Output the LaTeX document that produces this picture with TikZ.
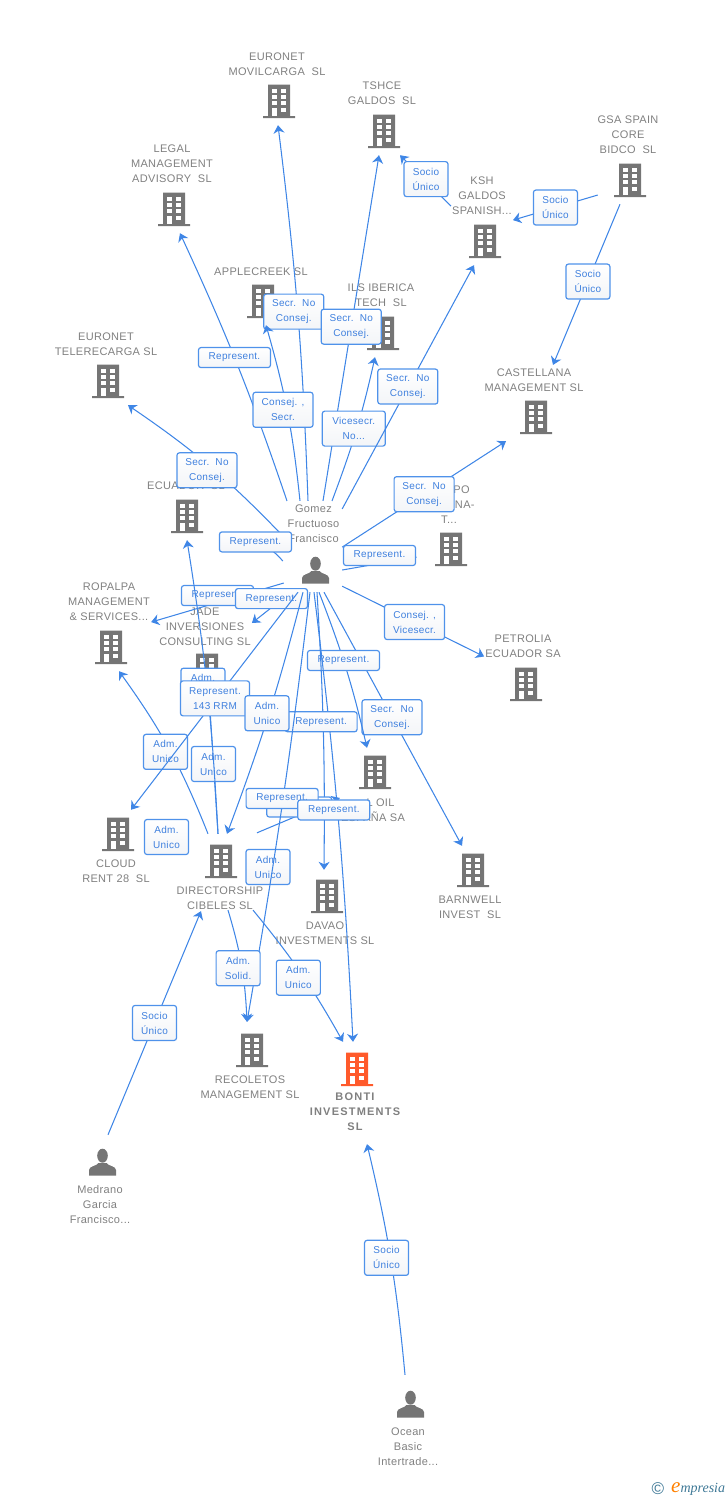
\documentclass[tikz,border=0pt]{standalone}
\usepackage{fontspec}
\setmainfont{Liberation Sans}
\newfontfamily\spaced[LetterSpace=3]{Liberation Sans}
\newfontfamily\wider[LetterSpace=11]{Liberation Sans}
\newfontfamily\brandfont{Liberation Serif}
\usetikzlibrary{arrows.meta}
\definecolor{linkblue}{HTML}{3F86E6}
\definecolor{tagedge}{HTML}{4F92EA}
\definecolor{tagtext}{HTML}{3F80DE}
\definecolor{tagshade}{HTML}{F3F5F8}
\definecolor{firmgray}{HTML}{808080}
\definecolor{blockgray}{HTML}{757575}
\definecolor{blockorange}{HTML}{FF5A2B}
\definecolor{brandblue}{HTML}{3E7896}
\tikzset{
  link/.style={draw=linkblue,line width=1.05pt,-{Stealth[length=8pt,width=11pt,inset=2.5pt]}},
  tag/.style={draw=tagedge,top color=white,bottom color=tagshade,rounded corners=2.5pt,line width=1.2pt,text=tagtext,align=center,
    font=\spaced\fontsize{10}{15}\selectfont,inner xsep=2pt,inner ysep=0pt,minimum height=35pt,minimum width=44pt},
  tagwide/.style={tag,minimum width=60pt},
  tagone/.style={tag,minimum height=20pt,minimum width=72pt},
  firm/.style={text=firmgray,align=center,font=\spaced\fontsize{11}{15}\selectfont,inner sep=1pt,yshift=-1pt},
  blockbox/.style={minimum width=46pt,minimum height=48pt,inner sep=0pt},
  personbox/.style={minimum width=54pt,minimum height=44pt,inner sep=0pt},
  pics/block/.style={code={
    \fill[#1] (-11,-16.3) rectangle (11,15) (-16,15) rectangle (16,17);
    \foreach \w in {-12.3,-6,0.3} {
      \fill[white] (-7,\w) rectangle (-2.3,\w+4);
      \fill[white] (2.3,\w) rectangle (7,\w+4);
    }
    \fill[white] (-7,7) rectangle (-2.3,15);
    \fill[white] (2.3,7) rectangle (7,11.3);
    \node[blockbox] (b) at (0,0) {};
  }},
  pics/block/.default=blockgray,
  pics/person/.style={code={
    \fill[blockgray] (0.5,-6.3) ellipse (5.3 and 7);
    \fill[blockgray] (-13,13.5) -- (-13,8) .. controls (-13,4) and (-5,4) .. (-3.5,1) -- (4.5,1)
      .. controls (6,4) and (14,4) .. (14,8) -- (14,13.5) -- cycle;
    \node[personbox] (b) at (0,0) {};
  }},
}
\begin{document}
\begin{tikzpicture}[x=1pt,y=-1pt]
\useasboundingbox (0,0) rectangle (728,1500);
% firms
\pic (movilcarga) at (279,101) {block};
\node[firm] (movilcarga) at (277,63.5) {EURONET\\MOVILCARGA\ \ SL};
\pic (tshce) at (384,131) {block};
\node[firm] (tshcetxt) at (382,92.5) {TSHCE\\GALDOS\ \ SL};
\pic (gsa) at (630,180) {block};
\node[firm] (gsa) at (628,134) {GSA SPAIN\\CORE\\BIDCO\ \ SL};
\pic (legal) at (174,209) {block};
\node[firm] (legal) at (172,163) {LEGAL\\MANAGEMENT\\ADVISORY\ \ SL};
\pic (ksh) at (485,241) {block};
\node[firm] (ksh) at (482,195) {KSH\\GALDOS\\SPANISH...};
\pic (apple) at (263,301) {block};
\node[firm] (apple) at (261,271) {APPLECREEK SL};
\pic (ils) at (383,333) {block};
\node[firm] (ils) at (381,294.5) {ILS IBERICA\\TECH\ \ SL};
\pic (tele) at (108,381) {block};
\node[firm] (tele) at (106,343.5) {EURONET\\TELERECARGA SL};
\pic (castellana) at (536,417) {block};
\node[firm] (castellana) at (534,379.5) {CASTELLANA\\MANAGEMENT SL};
\pic (ecuador) at (187,516) {block};
\node[firm] (ecuador) at (186,477.5) {C\hspace{14pt}\\ECUADOR\ \ SL};
\pic (grupo) at (451,549) {block};
\node[firm] (grupo) at (449,504) {\phantom{GRU}PO\\\phantom{XXX}ONA-\\T...};
\pic (jade) at (207,670) {block};
\node[firm] (jade) at (205,626) {JADE\\INVERSIONES\\CONSULTING SL};
\pic (ropalpa) at (111,647) {block};
\node[firm] (ropalpa) at (109,601) {ROPALPA\\MANAGEMENT\\\& SERVICES...};
\pic (petrolia) at (526,684) {block};
\node[firm] (petrolia) at (523,645.5) {PETROLIA\\ECUADOR SA};
\pic (cloud) at (118,834) {block};
\node[firm] (cloud) at (116,870.5) {CLOUD\\RENT 28\ \ SL};
\pic (cibeles) at (221,861) {block};
\node[firm] (cibeles) at (220,897.5) {DIRECTORSHIP\\CIBELES SL};
\pic (davao) at (327,896) {block};
\node[firm] (davao) at (325,932.5) {DAVAO\\INVESTMENTS SL};
\pic (barnwell) at (473,870) {block};
\node[firm] (barnwell) at (470,906.5) {BARNWELL\\INVEST\ \ SL};
\pic (oil) at (375,772) {block};
\node[firm] (oil) at (373,809.5) {\phantom{XX}L OIL\\ESPAÑA SA};
\pic (recoletos) at (252,1050) {block};
\node[firm] (recoletos) at (250,1086.5) {RECOLETOS\\MANAGEMENT SL};
\pic (bonti) at (357,1069) {block={blockorange}};
\node[firm,font=\wider\bfseries\fontsize{11}{15}\selectfont] (bonti) at (355,1111) {BONTI\\INVESTMENTS\\SL};
% persons
\pic (gomez) at (315,570) {person};
\node[firm,inner xsep=0pt,inner ysep=4pt,minimum width=57pt] (gomez) at (313.5,523) {Gomez\\Fructuoso\\Francisco};
\pic (medrano) at (102,1162) {person};
\node[firm] (medrano) at (100,1204) {Medrano\\Garcia\\Francisco...};
\pic (ocean) at (410,1404) {person};
\node[firm] (ocean) at (408,1446) {Ocean\\Basic\\Intertrade...};
% links
\draw[link] ([xshift=-4pt,yshift=-13pt]gomezb.west) -- node[tagone,pos=.5,yshift=7pt] (t1) {Represent.} (ropalpa.south east);
\draw[link] ([xshift=-24pt]gomezb.south) -- node[tagone,pos=.5,yshift=9pt] (t2) {Represent.} ([yshift=4pt]jade.east);
\draw[link] ([yshift=-14pt]gomez.west) to[bend right=6] node[tagwide,pos=.5,xshift=-3.5pt,yshift=-3.5pt] (t3) {Secr.\ \ No\\Consej.} ([xshift=20pt]teleb.south);
\draw[link] ([xshift=-5pt,yshift=9pt]gomezb.west) to[bend right=25] node[tagone,pos=.5,xshift=-7pt,yshift=3pt] (t4) {Represent.} ([xshift=50pt]ecuadorb.south);
\draw[link] ([xshift=-26.5pt]gomez.north) to[bend right=3] node[tagone,pos=.532] (t5) {Represent.} ([xshift=6pt]legalb.south);
\draw[link] ([xshift=-5.5pt]gomez.north) to[bend right=2.5] node[tagwide,pos=.503,xshift=-4pt] (t6) {Secr.\ \ No\\Consej.} ([xshift=-1pt]movilcargab.south);
\draw[link] ([xshift=-13.5pt]gomez.north) to[bend right=5] node[tagwide,pos=.515,xshift=-4pt] (t7) {Consej. ,\\Secr.} ([xshift=3pt]appleb.south);
\draw[link] ([xshift=9.5pt]gomez.north) -- node[tagwide,pos=.504] (t8) {Secr.\ \ No\\Consej.} ([xshift=-5pt]tshceb.south);
\draw[link] ([xshift=18.5pt]gomez.north) to[bend right=4] node[tagwide,pos=.51,minimum width=63pt,xshift=-3pt] (t9) {Vicesecr.\\No...} ([xshift=-8pt]ilsb.south);
\draw[link] ([yshift=-8pt]gomez.north east) -- node[tagwide,pos=.498,yshift=1pt] (t10) {Secr.\ \ No\\Consej.} ([xshift=-11pt]kshb.south);
\draw[link] (gomez.south east) -- node[tagwide,pos=.5] (t11) {Secr.\ \ No\\Consej.} ([xshift=-30pt]castellanab.south);
\draw[link] (gomezb.east) -- node[tagone,pos=.5,yshift=8pt] (t12) {Represent.} ([xshift=-11pt,yshift=-8pt]grupob.west);
\draw[link] ([yshift=6pt]gomezb.south east) -- node[tagwide,pos=.51] (t13) {Consej. ,\\Vicesecr.} ([yshift=-10pt]petrolia.west);
\draw[link] ([xshift=9pt]gomezb.south) -- node[tagwide,pos=.493] (t14) {Secr.\ \ No\\Consej.} ([xshift=-11pt]barnwellb.north);
\draw[link] ([xshift=4pt]gomezb.south) to[bend left=4] node[tagone,pos=.44] (t15) {Represent.} ([xshift=-8pt]oilb.north);
\draw[link] ([xshift=-3pt,yshift=3pt]cibelesb.north) -- node[tag,pos=.5] (t16) {Adm.\\Unico} ([xshift=2pt]jadeb.south);
\draw[link] ([xshift=-3pt,yshift=3pt]cibelesb.north) to[bend right=3] node[tag,pos=.503,xshift=-4pt] (t17) {Adm.\\Unico} (ecuadorb.south);
\draw[link] ([xshift=-13pt,yshift=3pt]cibelesb.north) to[bend right=7] node[tag,pos=.51,xshift=-3pt,yshift=-4pt] (t18) {Adm.\\Unico} ([xshift=8pt]ropalpab.south);
\draw[link] ([xshift=-12pt,yshift=16pt]cibelesb.west) -- node[tag,pos=.5,yshift=2.5pt] (t19) {Adm.\\Unico} ([xshift=6pt]cloudb.east);
\draw[link] ([xshift=-17pt]gomezb.south) -- node[tag,pos=.497,minimum width=69pt,yshift=2pt] (t20) {Represent.\\143 RRM} ([xshift=13pt]cloudb.north);
\draw[link] ([xshift=6pt,yshift=-7pt]cibelesb.east) -- node[tag,pos=.5,yshift=6pt] (t21) {Adm.\\Unico} ([xshift=-18pt,yshift=18pt]davaob.west);
\draw[link] ([xshift=-1pt]gomezb.south) to[bend left=2] node[coordinate,pos=.479,xshift=-3.5pt,yshift=-2pt] (c26) {} ([xshift=-4pt,yshift=3pt]bontib.north);
\draw[link] ([xshift=2pt]gomezb.south) to[bend left=2] node[tagone,pos=.464,xshift=-2pt] (t22) {Represent.} ([xshift=-3pt,yshift=2pt]davaob.north);
\draw[link] ([xshift=-12pt]gomezb.south) to[bend left=3] node[tag,pos=.496,xshift=-2pt] (t23) {Adm.\\Unico} ([xshift=6pt,yshift=3pt]cibelesb.north);
\draw[link] ([xshift=36pt,yshift=4pt]cibelesb.north) -- node[tagone,pos=.51,minimum width=65pt,yshift=8pt] (t24) {} (oil.north west);
\draw[link] ([xshift=-5pt]gomezb.south) to[bend left=1.5] node[tagone,pos=.477,xshift=-1pt] (t25) {Represent.} ([xshift=-5pt,yshift=4pt]recoletosb.north);
\node[tagone] (t26) at (c26) {Represent.};
\draw[link] ([xshift=8pt,yshift=1pt]cibeles.south) to[bend left=7] node[tag,pos=.48,xshift=-3pt,yshift=-5pt] (t27) {Adm.\\Solid.} ([xshift=-5pt,yshift=4pt]recoletosb.north);
\draw[link] ([xshift=33pt,yshift=1pt]cibeles.south) to[bend left=5] node[tag,pos=.5,xshift=-3pt,yshift=-4pt] (t28) {Adm.\\Unico} ([xshift=-14pt,yshift=3pt]bontib.north);
\draw[link] ([xshift=6pt,yshift=5pt]medranob.north) -- node[tag,pos=.5] (t29) {Socio\\Único} ([xshift=-19pt]cibeles.south);
\draw[link] ([xshift=-5pt,yshift=7pt]oceanb.north) to[bend right=4] node[tag,pos=.504,xshift=-4pt] (t30) {Socio\\Único} ([xshift=12pt,yshift=-12pt]bonti.south);
\draw[link] ([xshift=-9pt,yshift=-15pt]gsab.west) -- node[tag,pos=.5] (t31) {Socio\\Único} ([yshift=-4pt]ksh.south east);
\draw[link] ([yshift=-10pt]ksh.west) -- node[tag,pos=.49,yshift=2pt] (t32) {Socio\\Único} ([xshift=16pt]tshceb.south);
\draw[link] ([xshift=-10pt]gsab.south) -- node[tag,pos=.494,xshift=1pt,yshift=2pt] (t33) {Socio\\Único} ([xshift=19pt,yshift=3pt]castellana.north);
% brand
\node[inner sep=0pt,text=brandblue,font=\fontsize{17}{17}\selectfont] (copymark) at (658,1489) {©};
\node[inner sep=0pt,font=\brandfont\itshape\fontsize{14}{14}\selectfont,text=brandblue,anchor=west] (brand) at (671,1489) {\textcolor{orange}{\fontsize{21}{21}\selectfont e}mpresia};
\end{tikzpicture}
\end{document}
